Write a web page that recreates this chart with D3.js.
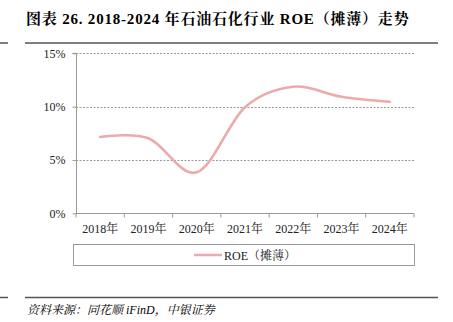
<!DOCTYPE html>
<html>
<head>
<meta charset="utf-8">
<script src="https://cdn.jsdelivr.net/npm/d3@7/dist/d3.min.js"></script>
<style>
  html, body { margin: 0; padding: 0; background: #fff; }
  svg { display: block; }
</style>
</head>
<body>
<script>
// Series data
const years = ["2018年", "2019年", "2020年", "2021年", "2022年", "2023年", "2024年"];
const roe = [7.15, 7.03, 3.84, 9.95, 11.87, 10.93, 10.46];
const yTicks = [0, 5, 10, 15];
const seriesName = "ROE（摊薄）";
const titleText = "图表 26. 2018-2024 年石油石化行业 ROE（摊薄）走势";
const sourceText = "资料来源：同花顺 iFinD，中银证券";

const W = 453, H = 322;
const serif = "'Liberation Serif', 'Times New Roman', 'Noto Serif CJK SC', 'Noto Sans CJK SC', serif";

const svg = d3.select("body").append("svg")
  .attr("width", W).attr("height", H);

// Title and rules
svg.append("text")
  .attr("x", 26).attr("y", 24)
  .attr("font-family", serif)
  .attr("font-weight", "bold")
  .attr("font-size", 15)
  .attr("letter-spacing", 0.8)
  .attr("fill", "#000")
  .text(titleText);

const ruleColor = "#555";
[[0, 8], [25, 438]].forEach(([a, b]) => {
  svg.append("line").attr("x1", a).attr("x2", b).attr("y1", 43).attr("y2", 43)
    .attr("stroke", ruleColor).attr("stroke-width", 1.5);
  svg.append("line").attr("x1", a).attr("x2", b).attr("y1", 297.5).attr("y2", 297.5)
    .attr("stroke", ruleColor).attr("stroke-width", 1.5);
});

svg.append("text")
  .attr("x", 27).attr("y", 314)
  .attr("font-family", serif)
  .attr("font-style", "italic")
  .attr("font-size", 12)
  .attr("fill", "#000")
  .text(sourceText);

// Plot area
const x0 = 76, x1 = 414, yTop = 53.3, yBot = 213.3;
const x = d3.scaleBand().domain(years).range([x0, x1]);
const y = d3.scaleLinear().domain([0, 15]).range([yBot, yTop]);

// Dotted gridlines
svg.append("g").selectAll("line")
  .data(yTicks.filter(d => d > 0))
  .join("line")
  .attr("x1", x0).attr("x2", x1)
  .attr("y1", d => Math.round(y(d)) + 0.5).attr("y2", d => Math.round(y(d)) + 0.5)
  .attr("stroke", "#999").attr("stroke-width", 1)
  .attr("stroke-dasharray", "2,1.5");

// Y axis
const yAxis = svg.append("g")
  .attr("transform", `translate(${x0 + 0.5},0)`)
  .call(d3.axisLeft(y).tickValues(yTicks).tickFormat(d => d + "%").tickSize(4).tickPadding(7));
yAxis.select(".domain").attr("stroke", "#999").attr("d", `M-4,${yTop}H0V${yBot}`);
yAxis.selectAll(".tick line").attr("stroke", "#999");
yAxis.selectAll(".tick text")
  .attr("font-family", serif).attr("font-size", 12).attr("fill", "#222");

// X axis with ticks between categories
const xAxisG = svg.append("g")
  .attr("transform", `translate(0,${Math.round(yBot) + 0.5})`);
xAxisG.append("line").attr("x1", x0).attr("x2", x1).attr("stroke", "#999");
xAxisG.selectAll("line.tk")
  .data(years)
  .join("line").attr("class", "tk")
  .attr("x1", d => x(d) + x.bandwidth()).attr("x2", d => x(d) + x.bandwidth())
  .attr("y1", 0).attr("y2", 4)
  .attr("stroke", "#999");
xAxisG.append("line").attr("x1", x0).attr("x2", x0).attr("y1", 0).attr("y2", 4).attr("stroke", "#999");
xAxisG.selectAll("text")
  .data(years)
  .join("text")
  .attr("x", d => x(d) + x.bandwidth() / 2)
  .attr("y", 19)
  .attr("text-anchor", "middle")
  .attr("font-family", serif).attr("font-size", 12).attr("fill", "#222")
  .text(d => d);

// Smoothed line
const lineColor = "#eeaaab";
const line = d3.line()
  .x((d, i) => x(years[i]) + x.bandwidth() / 2)
  .y(d => y(d))
  .curve(d3.curveCardinal.tension(0));
svg.append("path")
  .datum(roe)
  .attr("d", line)
  .attr("fill", "none")
  .attr("stroke", lineColor)
  .attr("stroke-width", 2.6)
  .attr("stroke-linecap", "round");

// Legend
svg.append("rect")
  .attr("x", 73.5).attr("y", 244.5).attr("width", 341).attr("height", 21)
  .attr("fill", "none").attr("stroke", "#999");
svg.append("line")
  .attr("x1", 194).attr("x2", 222).attr("y1", 255).attr("y2", 255)
  .attr("stroke", lineColor).attr("stroke-width", 2.5);
svg.append("text")
  .attr("x", 224).attr("y", 259.5)
  .attr("font-family", serif).attr("font-size", 12).attr("fill", "#222")
  .text(seriesName);
</script>
</body>
</html>
